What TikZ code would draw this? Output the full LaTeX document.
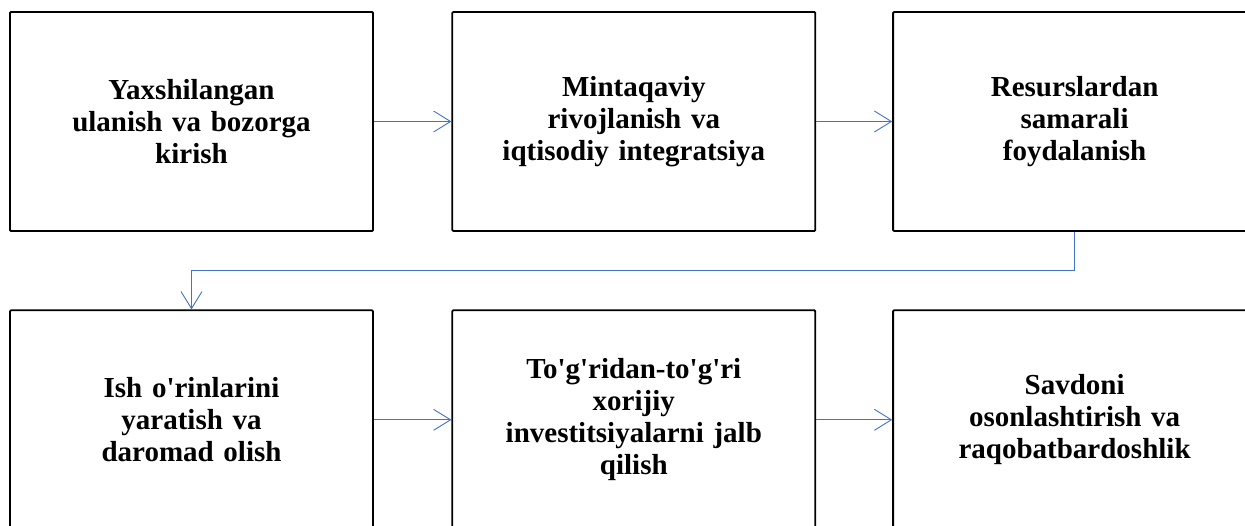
\documentclass[tikz,border=0pt]{standalone}
\usepackage{fontspec}
\setmainfont{Liberation Serif}
\usepackage{xcolor}
\usetikzlibrary{arrows.meta,positioning}
\definecolor{linkblue}{HTML}{4472C4}
\tikzstyle{block} = [rectangle, draw, line width=1.8pt, text width=340pt, align=center, minimum width=363pt, minimum height=219pt, inner sep=0pt, rounded corners=1pt, font=\fontsize{29}{32}\selectfont\bfseries]
\tikzstyle{line} = [draw, linkblue, line width=0.9pt, -{Straight Barb[length=17pt,width=21pt]}]

\begin{document}
\begin{tikzpicture}[x=1pt, y=-1pt]
            \useasboundingbox (0,0) rectangle (1245,525);
            \clip (0,0) rectangle (1245,525);

            \node[block] (access) at (191.5,121.5){
                Yaxshilangan\\ulanish va bozorga\\kirish
            };

            \node[block, right=77.5pt of access] (region){
                Mintaqaviy\\rivojlanish va\\iqtisodiy integratsiya
            };

            \node[block, right=76pt of region] (resource){
                Resurslardan\\samarali\\foydalanish
            };

            \node[block, below=77.5pt of access] (jobs){
                Ish o\textquotesingle rinlarini\\yaratish va\\daromad olish
            };

            \node[block, right=77.5pt of jobs] (invest){
                To\textquotesingle g\textquotesingle ridan-to\textquotesingle g\textquotesingle ri\\xorijiy\\investitsiyalarni jalb\\qilish
            };

            \node[block, right=76pt of invest] (trade){
                Savdoni\\osonlashtirish va\\raqobatbardoshlik
            };

            \path[line] (access) -- (region);
            \path[line] (region) -- (resource);
            \path[line] (resource.south) -- ++(0,-39pt) -| (jobs.north);
            \path[line] (jobs) -- (invest);
            \path[line] (invest) -- (trade);

        \end{tikzpicture}
\end{document}
